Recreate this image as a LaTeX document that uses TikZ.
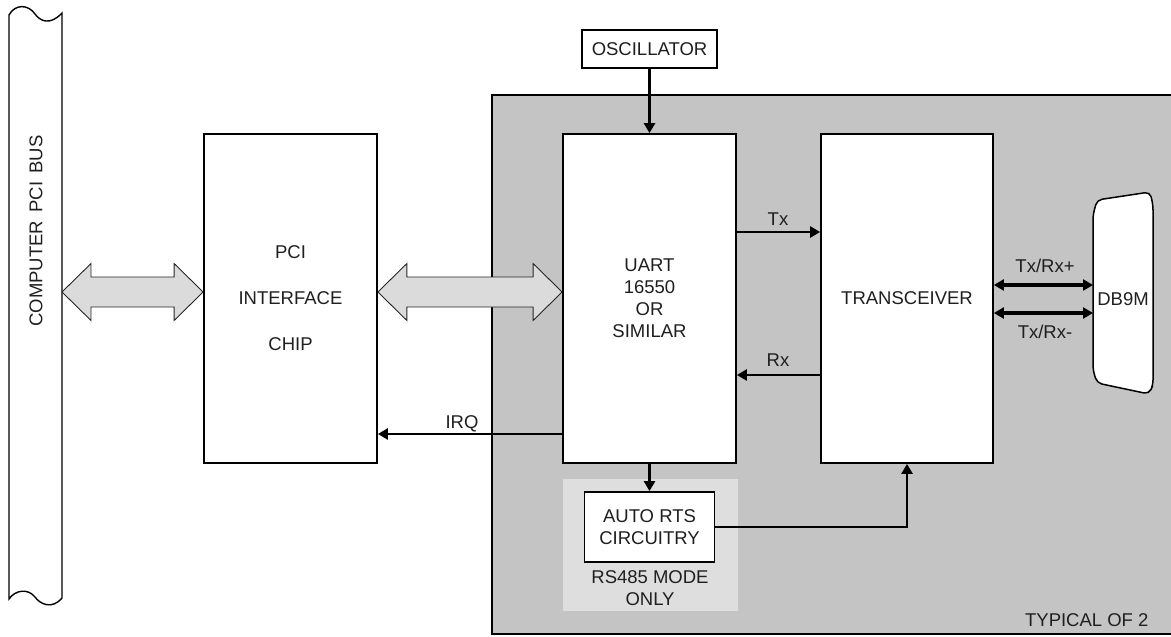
\documentclass[tikz,border=0pt]{standalone}
\usepackage{fontspec}
\setmainfont{Liberation Sans}
\usetikzlibrary{arrows.meta, positioning, calc}

\newcommand{\fatarrow}[2]{%
    \draw[fat] (#1) -- ++(29,-28.5) -- ++(0,13.5) -- ($(#2)+(-29,-15)$) -- ++(0,-13.5)
        -- (#2) -- ++(-29,28.5) -- ++(0,-13.5) -- ($(#1)+(29,15)$) -- ++(0,13.5) -- cycle;}

\begin{document}
\begin{tikzpicture}[x=1pt, y=-1pt, font=\fontsize{18.5}{22}\selectfont, text=black!88,
    box/.style={draw, line width=1.8pt, fill=white, inner sep=0pt, align=center},
    sig/.style={line width=2.6pt, -{Triangle[length=10pt,width=11pt]}},
    link/.style={line width=3.4pt, {Triangle[length=10pt,width=11pt]}-{Triangle[length=10pt,width=11pt]}},
    fat/.style={draw=black!85, line width=0.9pt, fill=black!14, line join=miter}]
    \useasboundingbox (0,0) rectangle (1171,637);
    \fill[black!23] (492,95) rectangle (1180,634);
    \draw[line width=1.8pt] (1180,95) -- (492,95) -- (492,634) -- (1180,634);
    \fill[black!13] (563,479) rectangle (738,611);
    \draw[line width=1.4pt] (9,15) .. controls (15,4) and (28,4) .. (35,14)
        .. controls (40,21) and (50,26) .. (62,13) -- (62,598)
        .. controls (52,610) and (40,604) .. (35,597)
        .. controls (28,588) and (15,590) .. (9,599) -- cycle;
    \node[rotate=90] (buslbl) at (36,231) {COMPUTER\hspace{0.45em}PCI\hspace{0.45em}BUS};
    \coordinate (busR) at (62,292);

    \node[box, minimum width=173pt, minimum height=329pt] (pci) at (290.5,298.5) {PCI\\[24pt]INTERFACE\\[24pt]CHIP};
    \node[box, minimum width=173pt, minimum height=329pt] (uart) at (649.5,298.5) {UART\\16550\\OR\\SIMILAR};
    \node[box, minimum width=172pt, minimum height=329pt] (trx) at (907,298.5) {TRANSCEIVER};
    \node[box, minimum width=135pt, minimum height=38pt] (osc) at (649.5,49) {OSCILLATOR};
    \node[box, minimum width=130pt, minimum height=70pt] (rts) at (649.5,527) {AUTO RTS\\CIRCUITRY};
    \node[align=center] (mode) at (650,588) {RS485 MODE\\ONLY};
    \node[anchor=east] (typ) at (1152,620) {TYPICAL OF 2};

    \draw[line width=1.5pt, fill=white, rounded corners=5pt] (1093,215) -- (1097,200) -- (1150,192)
        -- (1153,205) -- (1153,385) -- (1149,394) -- (1097,383) -- (1093,370) -- cycle;
    \node (db9) at (1123,299) {DB9M};
    \coordinate (db9L) at (1093,299);

    \coordinate (a1) at (pci.west |- busR);
    \coordinate (b1) at (pci.east |- busR);
    \coordinate (b2) at (uart.west |- busR);
    \fatarrow{busR}{a1}
    \fatarrow{b1}{b2}

    \draw[sig] (osc) -- (uart);
    \draw[sig] (uart) -- (rts);
    \draw[sig] (uart.east |- 0,232) -- (trx.west |- 0,232);
    \draw[sig] (trx.west |- 0,375) -- (uart.east |- 0,375);
    \draw[sig] (uart.west |- 0,434) -- (pci.east |- 0,434);
    \draw[sig] (rts.east) -| (trx.south);
    \draw[link] (trx.east |- 0,285) -- (db9L |- 0,285);
    \draw[link] (trx.east |- 0,313) -- (db9L |- 0,313);

    \node (txl) at (778,219) {Tx};
    \node (rxl) at (778,360) {Rx};
    \node (irql) at (462,424) {IRQ};
    \node (txrxp) at (1045,266) {Tx/Rx+};
    \node (txrxm) at (1045,332) {Tx/Rx-};
\end{tikzpicture}
\end{document}
